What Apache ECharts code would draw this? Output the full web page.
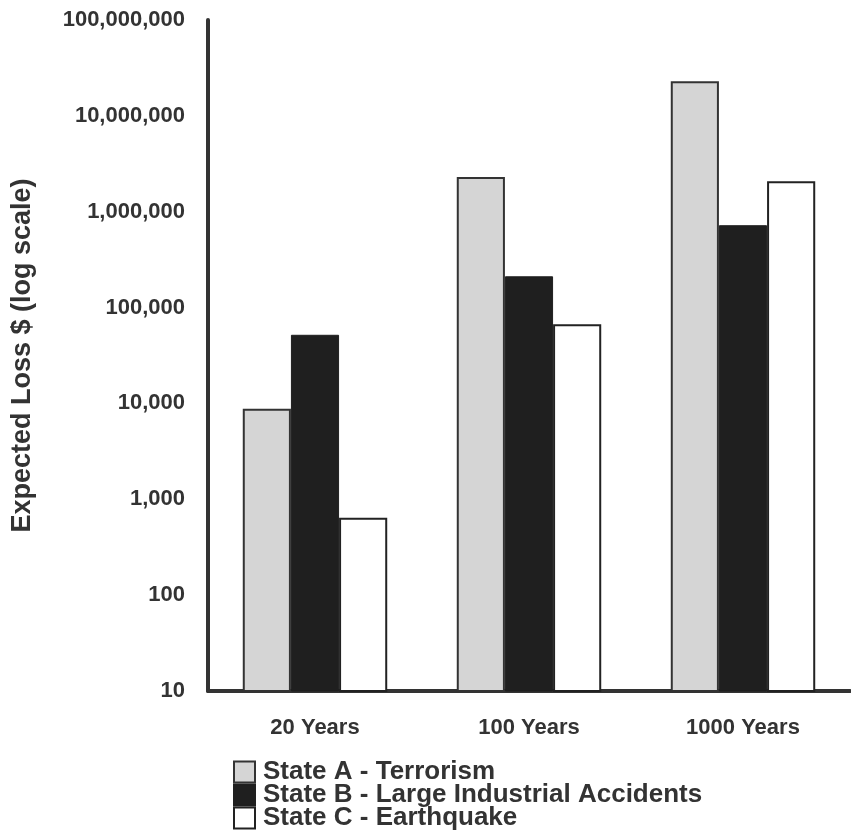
<!DOCTYPE html>
<html>
<head>
<meta charset="utf-8">
<script src="https://cdn.jsdelivr.net/npm/echarts@6/dist/echarts.min.js"></script>
<style>
  html, body { margin: 0; padding: 0; background: #fff; }
  #chart { width: 851px; height: 838px; }
</style>
</head>
<body>
<div id="chart"></div>
<script>
// Return periods on the category axis
const periods = ['20 Years', '100 Years', '1000 Years'];

// Expected loss in dollars for each state
const terrorismA = [8800, 2300000, 22900000];
const industrialB = [52000, 212000, 723000];
const earthquakeC = [640, 67000, 2080000];

const seriesNames = [
  'State A - Terrorism',
  'State B - Large Industrial Accidents',
  'State C - Earthquake'
];

const textColor = '#333';
const fontFamily = '"Liberation Sans", Arial, Helvetica, sans-serif';

const chart = echarts.init(document.getElementById('chart'));

chart.setOption({
  animation: false,
  backgroundColor: '#fff',
  textStyle: { fontFamily: fontFamily },
  grid: {
    left: 208, right: 1, top: 20, bottom: 147,
    containLabel: false, outerBoundsMode: 'none'
  },
  legend: {
    orient: 'vertical',
    left: 233,
    top: 759,
    height: 140,
    padding: 0,
    itemWidth: 21,
    itemHeight: 21,
    itemGap: -3,
    icon: 'rect',
    textStyle: {
      color: textColor, fontSize: 26, fontWeight: 'bold', fontFamily: fontFamily,
      lineHeight: 22, padding: [0, 0, 0, 3]
    },
    data: seriesNames
  },
  xAxis: {
    type: 'category',
    data: periods,
    axisLine: { show: true, lineStyle: { color: '#333', width: 4 } },
    axisTick: { show: false },
    axisLabel: { color: textColor, fontSize: 22, fontWeight: 'bold', margin: 26 },
    splitLine: { show: false }
  },
  yAxis: {
    type: 'log',
    logBase: 10,
    min: 10,
    max: 100000000,
    name: 'Expected Loss $ (log scale)',
    nameLocation: 'middle',
    nameGap: 172,
    nameRotate: 90,
    nameTextStyle: { color: textColor, fontSize: 27, fontWeight: 'bold' },
    axisLine: { show: true, lineStyle: { color: '#333', width: 4 } },
    axisTick: { show: false },
    splitLine: { show: false },
    axisLabel: {
      color: textColor,
      fontSize: 22,
      fontWeight: 'bold',
      margin: 23,
      formatter: v => Math.round(v).toLocaleString('en-US')
    }
  },
  series: [
    {
      name: seriesNames[0],
      type: 'bar',
      data: terrorismA,
      barGap: '0%',
      barCategoryGap: '32.5%',
      itemStyle: { color: '#d5d5d5', borderColor: '#333', borderWidth: 2 }
    },
    {
      name: seriesNames[1],
      type: 'bar',
      data: industrialB,
      itemStyle: { color: '#1f1f1f', borderColor: '#1f1f1f', borderWidth: 1 }
    },
    {
      name: seriesNames[2],
      type: 'bar',
      data: earthquakeC,
      itemStyle: { color: '#ffffff', borderColor: '#222', borderWidth: 2 }
    }
  ]
});
</script>
</body>
</html>
